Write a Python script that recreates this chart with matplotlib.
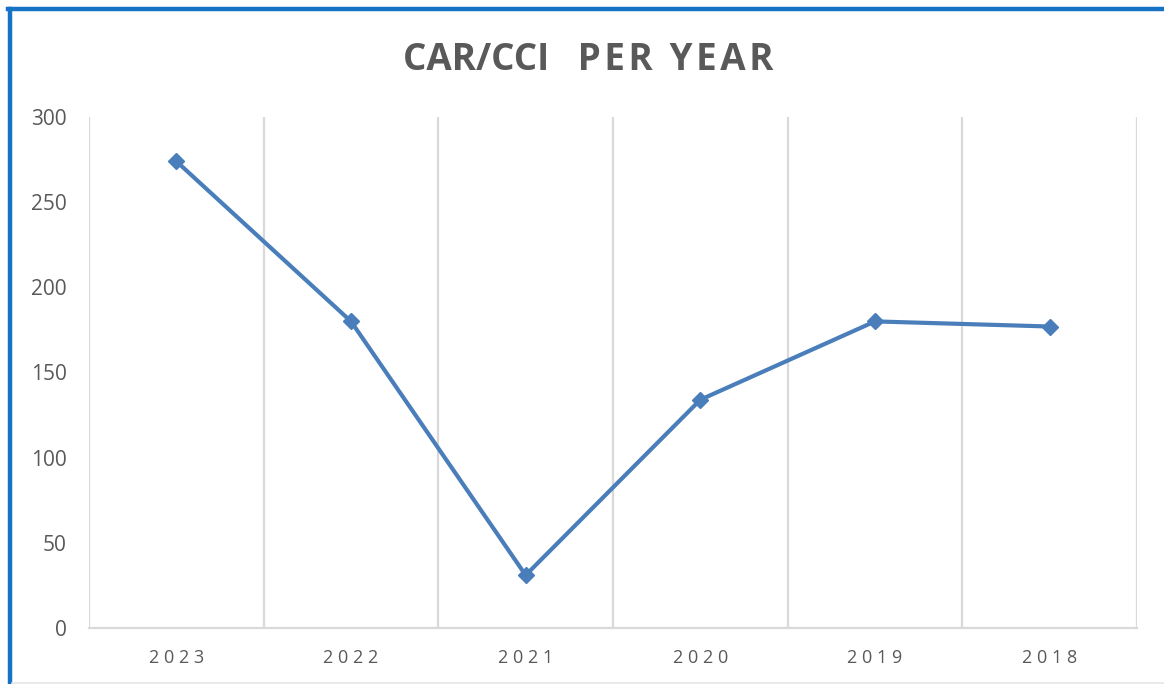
import matplotlib.pyplot as plt
import matplotlib.lines as mlines
import numpy as np

years = ['2023', '2022', '2021', '2020', '2019', '2018']
car_cci = [274, 180, 31, 134, 180, 177]
y_ticks = [0, 50, 100, 150, 200, 250, 300]

plt.rcParams['font.family'] = ['Open Sans', 'DejaVu Sans']

W, H = 1164, 684
fig = plt.figure(figsize=(W / 100, H / 100), dpi=100)
fig.patch.set_facecolor('white')

ax = fig.add_axes([89 / W, 1 - 628 / H, (1137 - 89) / W, (628 - 117) / H])
x = np.arange(len(years))
ax.plot(x, car_cci, color='#4a7ebb', lw=3, marker='D', markersize=8.5,
        solid_joinstyle='round', zorder=3)

ax.set_xlim(-0.5, len(years) - 0.5)
ax.set_ylim(0, 300)
ax.set_yticks(y_ticks)
ax.set_yticklabels([str(v) for v in y_ticks])
ax.set_xticks(x)
# spread the year digits a little
ax.set_xticklabels(['\u2009\u200a'.join(y) for y in years])
ax.set_xticks(np.arange(-0.5, len(years)), minor=True)
ax.grid(which='minor', axis='x', color='#d9d9d9', lw=1.6)
ax.tick_params(which='both', length=0)
ax.tick_params(axis='y', pad=16, labelsize=15, labelcolor='#595959')
ax.tick_params(axis='x', pad=15, labelsize=13, labelcolor='#595959')
for side in ['top', 'right', 'left']:
    ax.spines[side].set_visible(False)
ax.spines['bottom'].set_color('#d9d9d9')
ax.spines['bottom'].set_linewidth(1.6)
ax.set_axisbelow(True)

# title: first word plain, the rest letter-spaced
title_words = 'CAR/CCI   ' + '\u200a'.join('PER YEAR')
fig.text(588 / W, 1 - 60 / H, title_words, ha='center', va='center',
         fontsize=26.5, fontweight='bold', color='#595959')

# frame around the chart
fig.add_artist(mlines.Line2D([10 / W, 10 / W], [0, 1 - 9 / H], color='#1572c4', lw=3.2))
fig.add_artist(mlines.Line2D([8 / W, 1], [1 - 9 / H, 1 - 9 / H], color='#1572c4', lw=3.2))
fig.add_artist(mlines.Line2D([12 / W, 1], [1.5 / H, 1.5 / H], color='#e6e6e6', lw=1.2))

fig.savefig('out.png', dpi=100)
